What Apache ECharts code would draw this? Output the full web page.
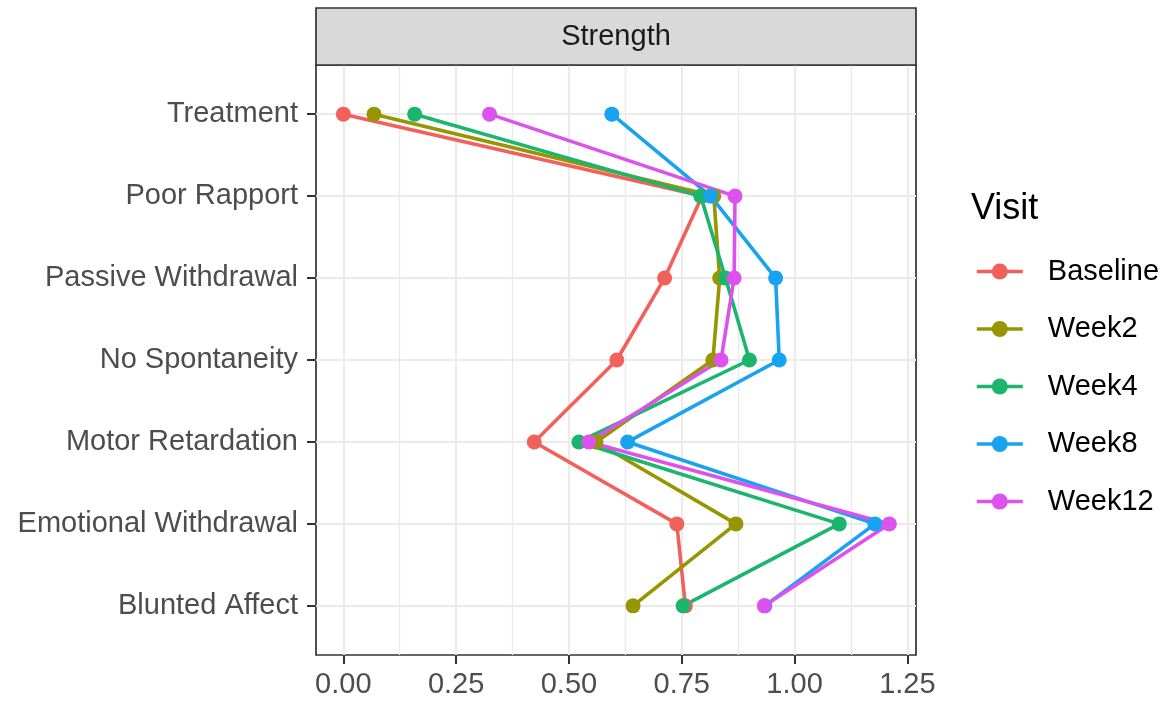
<!DOCTYPE html>
<html>
<head>
<meta charset="utf-8">
<script src="https://cdn.jsdelivr.net/npm/echarts@6/dist/echarts.min.js"></script>
<style>
  html, body { margin: 0; padding: 0; background: #fff; }
  #main { width: 1170px; height: 702px; }
</style>
</head>
<body>
<div id="main"></div>
<script>
// 类别（自上而下）
var categories = ['Treatment', 'Poor Rapport', 'Passive Withdrawal', 'No Spontaneity',
                  'Motor Retardation', 'Emotional Withdrawal', 'Blunted Affect'];
var visits = ['Baseline', 'Week2', 'Week4', 'Week8', 'Week12'];
var colors = ['#F2605C', '#979600', '#1BB56E', '#17A3EF', '#DD51EE'];

// 各访视的 Strength 值
var baseline = [0.000, 0.795, 0.712, 0.606, 0.423, 0.739, 0.758];
var week2    = [0.068, 0.821, 0.834, 0.819, 0.560, 0.870, 0.642];
var week4    = [0.158, 0.792, 0.847, 0.900, 0.522, 1.099, 0.753];
var week8    = [0.595, 0.814, 0.958, 0.966, 0.630, 1.178, 0.934];
var week12   = [0.324, 0.868, 0.866, 0.837, 0.544, 1.210, 0.933];

var xMajorTicks = [0, 0.25, 0.5, 0.75, 1.0, 1.25];
var xMinorTicks = [0.125, 0.375, 0.625, 0.875, 1.125];
var yTicks = [0, 1, 2, 3, 4, 5, 6];

var values = [baseline, week2, week4, week8, week12];
var font = 'Liberation Sans, Arial, Helvetica, sans-serif';

var myChart = echarts.init(document.getElementById('main'));

var series = [];
for (var i = 0; i < visits.length; i++) {
    var pts = [];
    for (var j = 0; j < categories.length; j++) {
        pts.push([values[i][j], j]);
    }
    series.push({
        name: visits[i],
        type: 'line',
        data: pts,
        symbol: 'circle',
        symbolSize: 15,
        color: colors[i],
        lineStyle: { width: 3.6, color: colors[i] },
        itemStyle: { color: colors[i] },
        z: 3
    });
}

var option = {
    animation: false,
    title: {
        text: 'Visit',
        left: 966,
        top: 186,
        textStyle: { fontSize: 36, fontWeight: 'normal', color: '#000', fontFamily: font }
    },
    legend: {
        data: visits,
        orient: 'vertical',
        left: 970,
        top: 252,
        itemWidth: 46,
        itemHeight: 20,
        itemGap: 28.5,
        lineStyle: { width: 3.6 },
        textStyle: { fontSize: 29, color: '#000', fontFamily: font, padding: [0, 0, 0, 20] }
    },
    graphic: [
        {
            type: 'rect',
            shape: { x: 316, y: 8, width: 600, height: 57 },
            style: { fill: '#D9D9D9', stroke: '#333333', lineWidth: 1.7 },
            z: 10
        },
        {
            type: 'text',
            x: 616, y: 37,
            style: { text: 'Strength', fill: '#1A1A1A', fontSize: 29, fontFamily: font,
                     textAlign: 'center', textVerticalAlign: 'middle' },
            z: 11
        }
    ],
    grid: {
        left: 316, right: 254, top: 65, bottom: 47,
        show: true, borderColor: '#333333', borderWidth: 1.7, backgroundColor: '#fff',
        z: 0
    },
    xAxis: [
        {
            type: 'value',
            min: -0.0606, max: 1.2691,
            axisLine: { show: false, onZero: false },
            axisTick: { show: true, length: 9, customValues: xMajorTicks,
                        lineStyle: { color: '#333333', width: 2 } },
            axisLabel: { customValues: xMajorTicks, fontSize: 29, color: '#4D4D4D', margin: 15,
                         fontFamily: font,
                         formatter: function (v) { return v.toFixed(2); } },
            splitLine: { show: true, lineStyle: { color: '#EBEBEB', width: 2.2 } }
        },
        {
            type: 'value',
            min: -0.0606, max: 1.2691,
            axisLine: { show: false, onZero: false },
            axisTick: { show: false, customValues: xMinorTicks },
            axisLabel: { show: false, customValues: xMinorTicks },
            splitLine: { show: true, lineStyle: { color: '#EBEBEB', width: 1.4 } }
        }
    ],
    yAxis: {
        type: 'value',
        inverse: true,
        min: -0.6, max: 6.6,
        axisLine: { show: false, onZero: false },
        axisTick: { show: true, length: 9, customValues: yTicks,
                    lineStyle: { color: '#333333', width: 2 } },
        axisLabel: { customValues: yTicks, fontSize: 29, color: '#4D4D4D', margin: 18,
                     fontFamily: font,
                     formatter: function (v) { return categories[v]; } },
        splitLine: { show: true, lineStyle: { color: '#EBEBEB', width: 2.2 } }
    },
    series: series
};

myChart.setOption(option);
</script>
</body>
</html>
